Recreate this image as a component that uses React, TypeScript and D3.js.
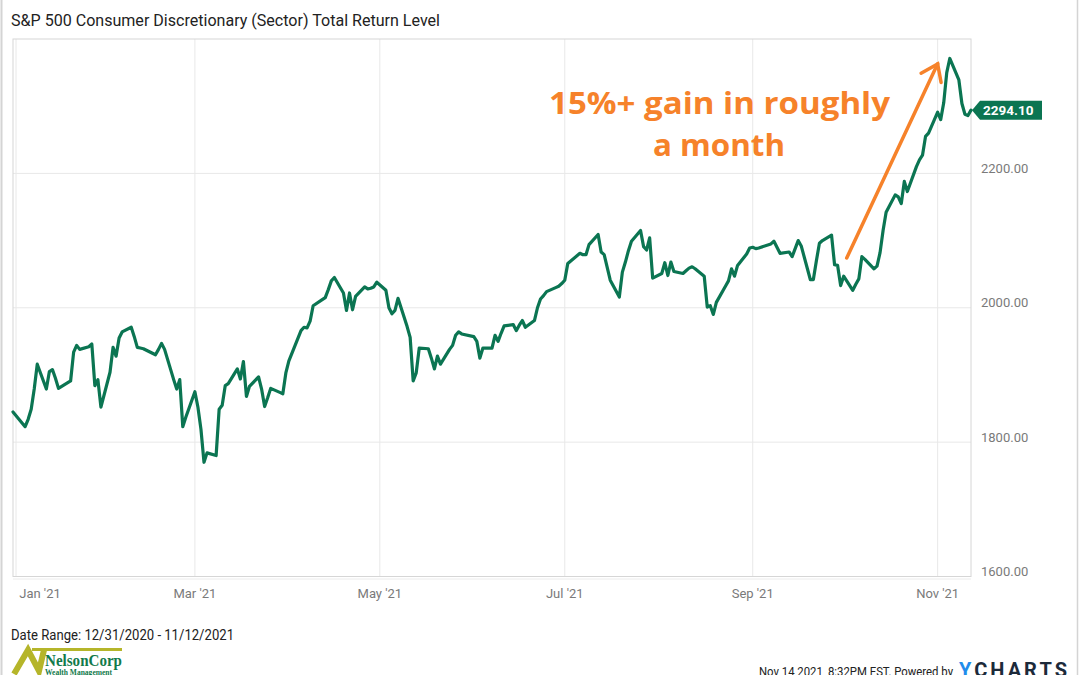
import React from "react";
import * as d3 from "d3";

const W = 1080;
const H = 675;

const chartTitle = "S&P 500 Consumer Discretionary (Sector) Total Return Level";
const dateRangeText = "Date Range: 12/31/2020 - 11/12/2021";
const footerText = "Nov 14 2021, 8:32PM EST.  Powered by";
const annotationLines = ["15%+ gain in roughly", "a month"];
const lastValueLabel = "2294.10";

const yTicks = [1600, 1800, 2000, 2200];
const yTickLabels = ["1600.00", "1800.00", "2000.00", "2200.00"];
const xTickDates = ["2021-01-01", "2021-03-01", "2021-05-01", "2021-07-01", "2021-09-01", "2021-11-01"];
const xTickLabels = ["Jan '21", "Mar '21", "May '21", "Jul '21", "Sep '21", "Nov '21"];

const dates = [
  "2020-12-31", "2021-01-04", "2021-01-05", "2021-01-06", "2021-01-07", "2021-01-08", "2021-01-11", "2021-01-12",
  "2021-01-13", "2021-01-14", "2021-01-15", "2021-01-19", "2021-01-20", "2021-01-21", "2021-01-22", "2021-01-25",
  "2021-01-26", "2021-01-27", "2021-01-28", "2021-01-29", "2021-02-01", "2021-02-02", "2021-02-03", "2021-02-04",
  "2021-02-05", "2021-02-08", "2021-02-09", "2021-02-10", "2021-02-11", "2021-02-12", "2021-02-16", "2021-02-17",
  "2021-02-18", "2021-02-19", "2021-02-22", "2021-02-23", "2021-02-24", "2021-02-25", "2021-02-26", "2021-03-01",
  "2021-03-02", "2021-03-03", "2021-03-04", "2021-03-05", "2021-03-08", "2021-03-09", "2021-03-10", "2021-03-11",
  "2021-03-12", "2021-03-15", "2021-03-16", "2021-03-17", "2021-03-18", "2021-03-19", "2021-03-22", "2021-03-23",
  "2021-03-24", "2021-03-25", "2021-03-26", "2021-03-29", "2021-03-30", "2021-03-31", "2021-04-01", "2021-04-05",
  "2021-04-06", "2021-04-07", "2021-04-08", "2021-04-09", "2021-04-12", "2021-04-13", "2021-04-14", "2021-04-15",
  "2021-04-16", "2021-04-19", "2021-04-20", "2021-04-21", "2021-04-22", "2021-04-23", "2021-04-26", "2021-04-27",
  "2021-04-28", "2021-04-29", "2021-04-30", "2021-05-03", "2021-05-04", "2021-05-05", "2021-05-06", "2021-05-07",
  "2021-05-10", "2021-05-11", "2021-05-12", "2021-05-13", "2021-05-14", "2021-05-17", "2021-05-18", "2021-05-19",
  "2021-05-20", "2021-05-21", "2021-05-24", "2021-05-25", "2021-05-26", "2021-05-27", "2021-05-28", "2021-06-01",
  "2021-06-02", "2021-06-03", "2021-06-04", "2021-06-07", "2021-06-08", "2021-06-09", "2021-06-10", "2021-06-11",
  "2021-06-14", "2021-06-15", "2021-06-16", "2021-06-17", "2021-06-18", "2021-06-21", "2021-06-22", "2021-06-23",
  "2021-06-24", "2021-06-25", "2021-06-28", "2021-06-29", "2021-06-30", "2021-07-01", "2021-07-02", "2021-07-06",
  "2021-07-07", "2021-07-08", "2021-07-09", "2021-07-12", "2021-07-13", "2021-07-14", "2021-07-15", "2021-07-16",
  "2021-07-19", "2021-07-20", "2021-07-21", "2021-07-22", "2021-07-23", "2021-07-26", "2021-07-27", "2021-07-28",
  "2021-07-29", "2021-07-30", "2021-08-02", "2021-08-03", "2021-08-04", "2021-08-05", "2021-08-06", "2021-08-09",
  "2021-08-10", "2021-08-11", "2021-08-12", "2021-08-13", "2021-08-16", "2021-08-17", "2021-08-18", "2021-08-19",
  "2021-08-20", "2021-08-23", "2021-08-24", "2021-08-25", "2021-08-26", "2021-08-27", "2021-08-30", "2021-08-31",
  "2021-09-01", "2021-09-02", "2021-09-03", "2021-09-07", "2021-09-08", "2021-09-09", "2021-09-10", "2021-09-13",
  "2021-09-14", "2021-09-15", "2021-09-16", "2021-09-17", "2021-09-20", "2021-09-21", "2021-09-22", "2021-09-23",
  "2021-09-24", "2021-09-27", "2021-09-28", "2021-09-29", "2021-09-30", "2021-10-01", "2021-10-04", "2021-10-05",
  "2021-10-06", "2021-10-07", "2021-10-08", "2021-10-11", "2021-10-12", "2021-10-13", "2021-10-14", "2021-10-15",
  "2021-10-18", "2021-10-19", "2021-10-20", "2021-10-21", "2021-10-22", "2021-10-25", "2021-10-26", "2021-10-27",
  "2021-10-28", "2021-10-29", "2021-11-01", "2021-11-02", "2021-11-03", "2021-11-04", "2021-11-05", "2021-11-08",
  "2021-11-09", "2021-11-10", "2021-11-11", "2021-11-12",
];

const values = [
  1845, 1823, 1834, 1849, 1879, 1916, 1879, 1905,
  1908, 1895, 1880, 1891, 1934, 1944, 1938, 1942,
  1946, 1884, 1893, 1852, 1904, 1941, 1928, 1955,
  1964, 1971, 1957, 1941, 1940, 1939, 1930, 1938,
  1947, 1938, 1893, 1879, 1893, 1823, 1837, 1875,
  1852, 1819, 1770, 1784, 1780, 1849, 1855, 1884,
  1887, 1909, 1894, 1920, 1868, 1883, 1897, 1879,
  1853, 1866, 1880, 1874, 1872, 1903, 1921, 1966,
  1971, 1970, 1980, 2003, 2012, 2015, 2027, 2040,
  2045, 2022, 1996, 2022, 1997, 2017, 2031, 2028,
  2029, 2031, 2038, 2026, 2000, 1991, 1996, 2014,
  1972, 1956, 1891, 1903, 1940, 1939, 1925, 1909,
  1928, 1916, 1938, 1944, 1959, 1964, 1961, 1957,
  1950, 1925, 1940, 1940, 1959, 1950, 1962, 1973,
  1975, 1966, 1974, 1981, 1971, 1981, 2000, 2013,
  2018, 2024, 2030, 2032, 2036, 2041, 2066, 2081,
  2079, 2079, 2094, 2109, 2083, 2079, 2060, 2041,
  2016, 2053, 2068, 2085, 2099, 2115, 2091, 2086,
  2104, 2044, 2051, 2067, 2048, 2068, 2054, 2051,
  2055, 2059, 2061, 2058, 2047, 2001, 2003, 1990,
  2008, 2032, 2040, 2058, 2047, 2063, 2080, 2089,
  2090, 2088, 2089, 2095, 2099, 2090, 2081, 2083,
  2076, 2088, 2100, 2092, 2042, 2042, 2070, 2096,
  2100, 2108, 2064, 2063, 2033, 2047, 2026, 2035,
  2043, 2076, 2072, 2058, 2062, 2082, 2115, 2142,
  2168, 2165, 2155, 2188, 2173, 2210, 2220, 2227,
  2255, 2260, 2291, 2280, 2305, 2350, 2371, 2339,
  2304, 2288, 2286, 2294.1,
];

// annotation arrow in data units: [date, value]
const arrowFrom: [string, number] = ["2021-10-02", 2074];
const arrowTo: [string, number] = ["2021-11-01", 2363];

const parse = d3.utcParse("%Y-%m-%d");

const PLOT_L = 13;
const PLOT_R = 971;
const PLOT_T = 39;
const PLOT_B = 576.5;

const GREEN = "#0b7552";
const ORANGE = "#f6822a";
const FONT = "Roboto, 'Noto Sans', sans-serif";

export default function App() {
  const data = dates.map((d, i) => ({ date: parse(d) as Date, value: values[i] }));
  const x = d3
    .scaleUtc()
    .domain([parse("2020-12-31") as Date, parse("2021-11-12") as Date])
    .range([PLOT_L, PLOT_R]);
  const y = d3.scaleLinear().domain([1600, 2400]).range([PLOT_B, PLOT_T]);

  const line = d3
    .line<{ date: Date; value: number }>()
    .x((d) => x(d.date))
    .y((d) => y(d.value));

  const last = data[data.length - 1];
  const ly = y(last.value);
  const tagX = PLOT_R + 1;
  const tagPath = `M${tagX},${ly} L${tagX + 8},${ly - 9.5} L${tagX + 70},${ly - 9.5} L${tagX + 70},${ly + 9.5} L${tagX + 8},${ly + 9.5} Z`;

  const ax0 = x(parse(arrowFrom[0]) as Date);
  const ay0 = y(arrowFrom[1]);
  const ax1 = x(parse(arrowTo[0]) as Date);
  const ay1 = y(arrowTo[1]);
  const ang = Math.atan2(ay1 - ay0, ax1 - ax0);
  const headLen = 19;
  const headAng = 0.62;
  const b1x = ax1 - headLen * Math.cos(ang - headAng);
  const b1y = ay1 - headLen * Math.sin(ang - headAng);
  const b2x = ax1 - headLen * Math.cos(ang + headAng);
  const b2y = ay1 - headLen * Math.sin(ang + headAng);

  return (
    <svg
      width={W}
      height={H}
      viewBox={`0 0 ${W} ${H}`}
      style={{ position: "absolute", left: 0, top: 0, display: "block", background: "#fff" }}
    >
      <rect x={0} y={0} width={W} height={H} fill="#fff" />
      {/* outer page borders */}
      <line x1={1.5} y1={0} x2={1.5} y2={H} stroke="#d4d4d4" strokeWidth={2} />
      <line x1={1077.5} y1={0} x2={1077.5} y2={H} stroke="#d4d4d4" strokeWidth={1.5} />

      <text x={11} y={25.5} fontFamily={FONT} fontSize={16} fill="#222" textLength={429} lengthAdjust="spacingAndGlyphs">
        {chartTitle}
      </text>

      {/* grid */}
      {yTicks.slice(1).map((t) => (
        <line key={t} x1={PLOT_L} x2={PLOT_R} y1={y(t)} y2={y(t)} stroke="#e8e8e8" strokeWidth={1} />
      ))}
      {xTickDates.map((d) => (
        <line
          key={d}
          x1={x(parse(d) as Date)}
          x2={x(parse(d) as Date)}
          y1={PLOT_T}
          y2={PLOT_B}
          stroke="#e8e8e8"
          strokeWidth={1}
        />
      ))}
      {/* frame */}
      <rect
        x={PLOT_L}
        y={PLOT_T}
        width={PLOT_R - PLOT_L}
        height={PLOT_B - PLOT_T}
        fill="none"
        stroke="#d6d6d6"
        strokeWidth={1}
      />
      <line x1={PLOT_L} x2={PLOT_R} y1={PLOT_B + 2.5} y2={PLOT_B + 2.5} stroke="#ececec" strokeWidth={1} />

      {/* y labels */}
      {yTicks.map((t, i) => (
        <text key={t} x={981} y={y(t) - 0.5} fontFamily={FONT} fontSize={13} fill="#7a7a7a">
          {yTickLabels[i]}
        </text>
      ))}
      {/* x labels */}
      {xTickDates.map((d, i) => {
        const px = Math.max(x(parse(d) as Date), 40);
        return (
          <text key={d} x={px} y={597.5} textAnchor="middle" fontFamily={FONT} fontSize={13} fill="#7a7a7a">
            {xTickLabels[i]}
          </text>
        );
      })}

      {/* series */}
      <path
        d={line(data) || ""}
        fill="none"
        stroke={GREEN}
        strokeWidth={3.2}
        strokeLinejoin="round"
        strokeLinecap="round"
      />

      {/* last value tag */}
      <path d={tagPath} fill={GREEN} />
      <text x={tagX + 11} y={ly + 4.8} fontFamily={FONT} fontSize={13.5} fontWeight={700} fill="#fff">
        {lastValueLabel}
      </text>

      {/* annotation */}
      <text
        x={549}
        y={113.5}
        fontFamily="'Open Sans', sans-serif"
        fontWeight={700}
        fontSize={31}
        fill={ORANGE}
        textLength={341}
        lengthAdjust="spacingAndGlyphs"
      >
        {annotationLines[0]}
      </text>
      <text
        x={653}
        y={156}
        fontFamily="'Open Sans', sans-serif"
        fontWeight={700}
        fontSize={31}
        fill={ORANGE}
        textLength={132}
        lengthAdjust="spacingAndGlyphs"
      >
        {annotationLines[1]}
      </text>
      <line x1={ax0} y1={ay0} x2={ax1} y2={ay1} stroke={ORANGE} strokeWidth={3.5} strokeLinecap="round" />
      <polyline
        points={`${b1x},${b1y} ${ax1},${ay1} ${b2x},${b2y}`}
        fill="none"
        stroke={ORANGE}
        strokeWidth={3.5}
        strokeLinecap="round"
        strokeLinejoin="miter"
      />

      {/* footer */}
      <text x={11} y={639.5} fontFamily={FONT} fontSize={14} fill="#222" textLength={223} lengthAdjust="spacingAndGlyphs">
        {dateRangeText}
      </text>
      <g>
        <path d="M14,674 L28,650 L39,671 L44,650" fill="none" stroke="#b5b52a" strokeWidth={6} strokeLinejoin="miter" />
        <line x1={32} y1={649.5} x2={122} y2={649.5} stroke="#b5b52a" strokeWidth={3} />
        <text
          x={45}
          y={665.5}
          fontFamily="'Liberation Serif', 'DejaVu Serif', serif"
          fontWeight={700}
          fontSize={17}
          fill="#127a4b"
          textLength={77}
          lengthAdjust="spacingAndGlyphs"
        >
          NelsonCorp
        </text>
        <text
          x={45}
          y={674.5}
          fontFamily="'Liberation Serif', 'DejaVu Serif', serif"
          fontWeight={700}
          fontSize={7.5}
          fill="#127a4b"
          textLength={67}
          lengthAdjust="spacingAndGlyphs"
        >
          Wealth Management
        </text>
      </g>
      <text x={759} y={676} fontFamily={FONT} fontSize={13.5} fill="#222" textLength={194} lengthAdjust="spacingAndGlyphs">
        {footerText}
      </text>
      <text x={959} y={677} fontFamily={FONT} fontSize={20} fontWeight={700} textLength={108} lengthAdjust="spacing">
        <tspan fill="#1f8ceb">Y</tspan>
        <tspan fill="#1c2a3a">CHARTS</tspan>
      </text>
    </svg>
  );
}
